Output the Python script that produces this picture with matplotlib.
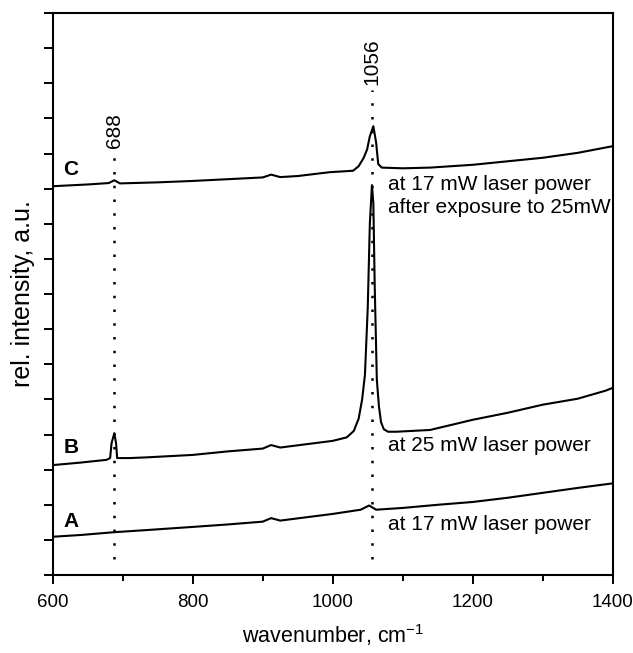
import numpy as np
import matplotlib
matplotlib.use("Agg")
import matplotlib.pyplot as plt

plt.rcParams['font.family'] = ['Liberation Sans', 'DejaVu Sans']

# spectrum A: 17 mW
wn_A = [600, 640, 688, 734, 800, 850, 900, 912, 925, 1000, 1040, 1052, 1062,
        1100, 1150, 1200, 1250, 1300, 1350, 1400]
int_A = [1.09, 1.14, 1.22, 1.28, 1.37, 1.44, 1.52, 1.62, 1.55, 1.74, 1.86, 1.98, 1.86,
         1.91, 2.00, 2.08, 2.20, 2.34, 2.48, 2.61]

# spectrum B: 25 mW
wn_B = [600, 639, 677, 682, 684, 688, 690.5, 692, 710, 734, 800, 850, 900, 912, 925,
        1000, 1020, 1030, 1037, 1042, 1046, 1050, 1053, 1056, 1058, 1060, 1063, 1066, 1069, 1073,
        1079, 1091, 1139, 1200, 1250, 1300, 1350, 1390, 1400]
int_B = [3.13, 3.20, 3.28, 3.33, 3.75, 4.04, 3.75, 3.33, 3.33, 3.35, 3.42, 3.52, 3.60, 3.70, 3.63,
         3.82, 3.92, 4.10, 4.45, 5.00, 5.70, 7.6, 10.0, 11.1, 10.6, 8.2, 5.56, 4.80, 4.35, 4.15,
         4.08, 4.08, 4.13, 4.42, 4.62, 4.85, 5.02, 5.25, 5.33]

# spectrum C: 17 mW after 25 mW
wn_C = [600, 650, 680, 688, 696, 750, 800, 850, 900, 912, 925, 950, 996, 1029, 1037,
        1044, 1049, 1053, 1058, 1062, 1065, 1070, 1100, 1139, 1200, 1250, 1300, 1350, 1400]
int_C = [11.07, 11.12, 11.16, 11.24, 11.15, 11.18, 11.22, 11.27, 11.32, 11.40, 11.33, 11.36, 11.47, 11.51, 11.64,
         11.87, 12.11, 12.49, 12.78, 12.31, 11.70, 11.60, 11.58, 11.60, 11.68, 11.78, 11.88, 12.02, 12.21]

peaks = [688, 1056]
peak_tops = [12.15, 13.95]

fig = plt.figure(figsize=(6.33, 6.53), dpi=100)
ax = fig.add_axes([0.0833, 0.1194, 0.8847, 0.8606])

for wn, y in [(wn_A, int_A), (wn_B, int_B), (wn_C, int_C)]:
    ax.plot(wn, y, color='black', lw=1.5)

for p, top in zip(peaks, peak_tops):
    ax.plot([p, p], [0.45, top - 0.15], color='black', lw=1.8,
            linestyle=(0, (1, 4.5)))
    ax.text(p, top, str(p), rotation=90, ha='center', va='bottom', fontsize=15)

ax.text(615, 11.54, 'C', fontsize=15, fontweight='bold', va='center')
ax.text(615, 3.63, 'B', fontsize=15, fontweight='bold', va='center')
ax.text(615, 1.52, 'A', fontsize=15, fontweight='bold', va='center')

ax.text(1079, 11.12, 'at 17 mW laser power', fontsize=15, va='center')
ax.text(1079, 10.45, 'after exposure to 25mW', fontsize=15, va='center')
ax.text(1079, 3.68, 'at 25 mW laser power', fontsize=15, va='center')
ax.text(1079, 1.45, 'at 17 mW laser power', fontsize=15, va='center')

ax.set_xlim(600, 1400)
ax.set_ylim(0, 16)
ax.set_xticks([600, 800, 1000, 1200, 1400])
ax.set_xticks([700, 900, 1100, 1300], minor=True)
ax.set_yticks(np.arange(0, 17))
ax.set_yticklabels([])
ax.tick_params(axis='both', direction='out', width=1.4, labelsize=13.5)
ax.tick_params(axis='x', which='major', length=6.5, pad=7)
ax.tick_params(axis='x', which='minor', length=4.5, width=1.4)
ax.tick_params(axis='y', length=6.5)
for s in ax.spines.values():
    s.set_linewidth(1.5)

ax.set_xlabel('wavenumber, cm$^{\\mathregular{-1}}$', fontsize=15.5, labelpad=8)
ax.set_ylabel('rel. intensity, a.u.', fontsize=18, labelpad=3)

fig.savefig('out.png', dpi=100)
